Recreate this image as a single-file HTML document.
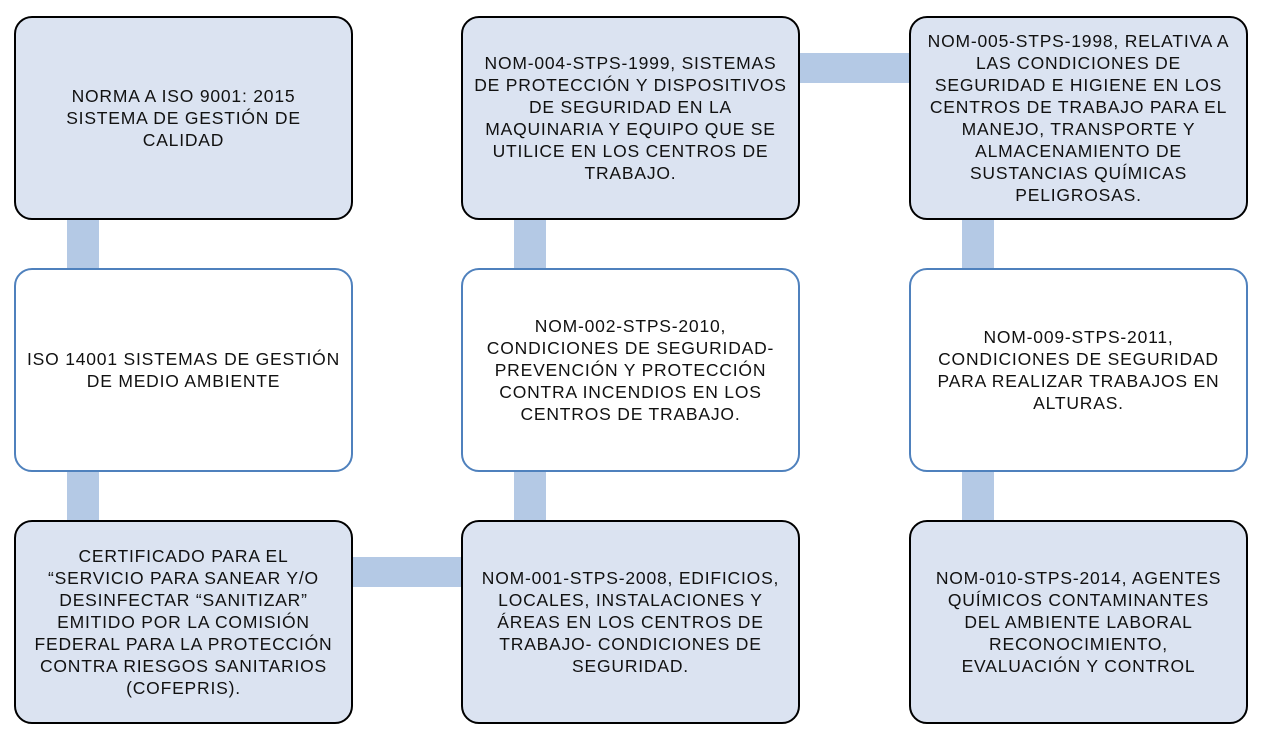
<!DOCTYPE html>
<html><head><meta charset="utf-8"><style>
body{margin:0;width:1261px;height:740px;background:#fff;position:relative;overflow:hidden;font-family:"Liberation Sans",sans-serif;}
.b{position:absolute;box-sizing:border-box;border-radius:18px;display:flex;align-items:center;justify-content:center;text-align:center;font-size:17.5px;letter-spacing:0.8px;line-height:22px;color:#111;padding:0;white-space:nowrap;}
.d{background:#dbe3f1;border:2.5px solid #000;}
.w{background:#fff;border:2.5px solid #4f81bd;}
.c{position:absolute;background:#b4c9e5;}
</style></head><body>
<div class="c" style="left:67px;top:210px;width:32px;height:70px"></div>
<div class="c" style="left:67px;top:462px;width:32px;height:70px"></div>
<div class="c" style="left:514px;top:210px;width:32px;height:70px"></div>
<div class="c" style="left:514px;top:462px;width:32px;height:70px"></div>
<div class="c" style="left:962px;top:210px;width:32px;height:70px"></div>
<div class="c" style="left:962px;top:462px;width:32px;height:70px"></div>
<div class="c" style="left:790px;top:53px;width:130px;height:30px"></div>
<div class="c" style="left:342px;top:557px;width:130px;height:30px"></div>

<div class="b d" style="left:14px;top:16px;width:339px;height:204px">NORMA A ISO 9001: 2015<br>SISTEMA DE GESTIÓN DE<br>CALIDAD</div>
<div class="b w" style="left:14px;top:268px;width:339px;height:204px">ISO 14001 SISTEMAS DE GESTIÓN<br>DE MEDIO AMBIENTE</div>
<div class="b d" style="left:14px;top:520px;width:339px;height:204px">CERTIFICADO PARA EL<br>“SERVICIO PARA SANEAR Y/O<br>DESINFECTAR “SANITIZAR”<br>EMITIDO POR LA COMISIÓN<br>FEDERAL PARA LA PROTECCIÓN<br>CONTRA RIESGOS SANITARIOS<br>(COFEPRIS).</div>

<div class="b d" style="left:461px;top:16px;width:339px;height:204px">NOM-004-STPS-1999, SISTEMAS<br>DE PROTECCIÓN Y DISPOSITIVOS<br>DE SEGURIDAD EN LA<br>MAQUINARIA Y EQUIPO QUE SE<br>UTILICE EN LOS CENTROS DE<br>TRABAJO.</div>
<div class="b w" style="left:461px;top:268px;width:339px;height:204px">NOM-002-STPS-2010,<br>CONDICIONES DE SEGURIDAD-<br>PREVENCIÓN Y PROTECCIÓN<br>CONTRA INCENDIOS EN LOS<br>CENTROS DE TRABAJO.</div>
<div class="b d" style="left:461px;top:520px;width:339px;height:204px">NOM-001-STPS-2008, EDIFICIOS,<br>LOCALES, INSTALACIONES Y<br>ÁREAS EN LOS CENTROS DE<br>TRABAJO- CONDICIONES DE<br>SEGURIDAD.</div>

<div class="b d" style="left:909px;top:16px;width:339px;height:204px">NOM-005-STPS-1998, RELATIVA A<br>LAS CONDICIONES DE<br>SEGURIDAD E HIGIENE EN LOS<br>CENTROS DE TRABAJO PARA EL<br>MANEJO, TRANSPORTE Y<br>ALMACENAMIENTO DE<br>SUSTANCIAS QUÍMICAS<br>PELIGROSAS.</div>
<div class="b w" style="left:909px;top:268px;width:339px;height:204px">NOM-009-STPS-2011,<br>CONDICIONES DE SEGURIDAD<br>PARA REALIZAR TRABAJOS EN<br>ALTURAS.</div>
<div class="b d" style="left:909px;top:520px;width:339px;height:204px">NOM-010-STPS-2014, AGENTES<br>QUÍMICOS CONTAMINANTES<br>DEL AMBIENTE LABORAL<br>RECONOCIMIENTO,<br>EVALUACIÓN Y CONTROL</div>
</body></html>
